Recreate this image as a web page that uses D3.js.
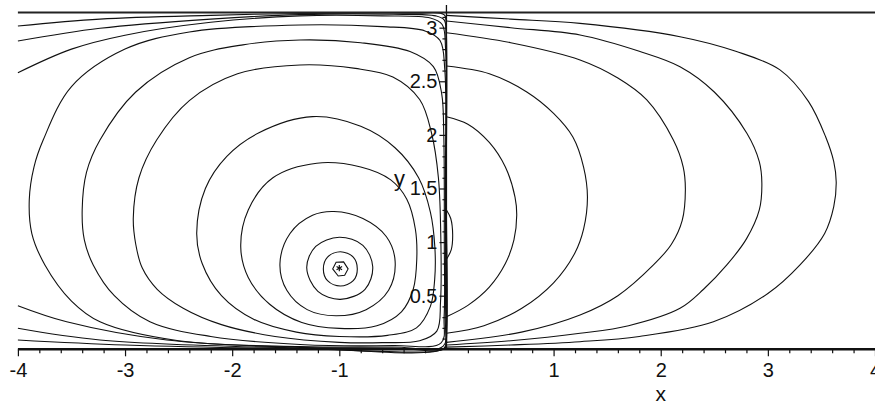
<!DOCTYPE html>
<html>
<head>
<meta charset="utf-8">
<script src="https://cdn.jsdelivr.net/npm/d3@7"></script>
<style>
  body { margin: 0; background: #fff; }
  svg text { font-family: "Liberation Sans", Arial, sans-serif; fill: #111; }
</style>
</head>
<body>
<script>
// plot window and tick labels
var xDomain = [-4, 4],
    yDomain = [0, Math.PI];
var xTickLabels = [-4, -3, -2, -1, 1, 2, 3, 4];
var yTickLabels = [0.5, 1, 1.5, 2, 2.5, 3];
var criticalPoint = [-1.0, 0.757];

// contour lines, [x, y] in data units
// closed loops round the critical point (left half)
var ring1 = [[-1.062,0.75],[-1.03,0.812],[-0.96,0.815],[-0.918,0.75],[-0.95,0.69],[-1.01,0.684]];
var ring2 = [[-1.149,0.75],[-1.11,0.86],[-0.99,0.91],[-0.87,0.86],[-0.832,0.75],[-0.87,0.64],[-0.99,0.59],[-1.11,0.64]];
var ring3 = [[-1.304,0.76],[-1.22,0.96],[-1.0,1.045],[-0.78,0.97],[-0.688,0.77],[-0.76,0.56],[-0.99,0.466],[-1.2,0.54]];
var ring4 = [[-1.554,0.80],[-1.46,1.08],[-1.25,1.25],[-1.05,1.285],[-0.78,1.22],[-0.56,1.05],[-0.479,0.82],[-0.54,0.55],[-0.75,0.37],[-1.03,0.313],[-1.3,0.37],[-1.49,0.55]];
var ring5 = [[-1.92,0.955],[-1.85,1.3],[-1.62,1.6],[-1.21,1.736],[-0.8,1.7],[-0.52,1.58],[-0.37,1.40],[-0.29,1.12],[-0.277,0.84],[-0.31,0.56],[-0.42,0.35],[-0.65,0.22],[-1.0,0.195],[-1.35,0.25],[-1.65,0.42],[-1.85,0.67]];
var ring6 = [[-2.331,1.085],[-2.25,1.5],[-2.05,1.80],[-1.75,2.02],[-1.25,2.17],[-0.8,2.08],[-0.48,1.88],[-0.26,1.6],[-0.15,1.28],[-0.108,0.95],[-0.11,0.65],[-0.15,0.40],[-0.28,0.2],[-0.55,0.13],[-1.0,0.12],[-1.4,0.16],[-1.8,0.28],[-2.1,0.5],[-2.28,0.8]];
var ring7 = [[-2.923,1.225],[-2.87,1.6],[-2.705,1.952],[-2.4,2.32],[-1.95,2.57],[-1.367,2.652],[-0.85,2.62],[-0.5,2.54],[-0.25,2.33],[-0.14,2.02],[-0.075,1.6],[-0.052,1.0],[-0.055,0.45],[-0.09,0.17],[-0.25,0.08],[-0.6,0.062],[-1.0,0.065],[-1.6,0.12],[-2.1,0.23],[-2.457,0.383],[-2.7,0.56],[-2.84,0.76],[-2.9,0.98]];
var ring8 = [[-3.40,1.30],[-3.36,1.65],[-3.234,1.952],[-2.9,2.4],[-2.4,2.72],[-1.9,2.84],[-1.367,2.885],[-0.8,2.86],[-0.34,2.777],[-0.122,2.636],[-0.045,2.388],[-0.025,2.0],[-0.02,1.0],[-0.022,0.3],[-0.05,0.06],[-0.5,0.035],[-1.367,0.045],[-2.2,0.12],[-2.768,0.257],[-3.1,0.5],[-3.297,0.787],[-3.38,1.02]];
var ring9 = [[-3.894,1.393],[-3.85,1.7],[-3.764,1.952],[-3.5,2.45],[-3.0,2.8],[-2.4,2.96],[-1.367,3.025],[-0.6,3.01],[-0.2,2.97],[-0.06,2.88],[-0.015,2.6],[-0.01,1.5],[-0.012,0.3],[-0.03,0.03],[-0.5,0.022],[-1.367,0.025],[-2.5,0.08],[-3.234,0.257],[-3.5,0.45],[-3.748,0.787],[-3.87,1.08]];

// open lines that leave through the left edge
var edge1 = [[-4,2.58],[-3.5,2.8],[-3.0,2.93],[-2.2,3.05],[-1.367,3.11],[-0.6,3.11],[-0.15,3.09],[-0.04,3.03],[-0.008,2.8],[-0.005,1.5],[-0.006,0.2],[-0.02,0.014],[-0.5,0.012],[-1.367,0.018],[-2.61,0.087],[-3.545,0.257],[-4,0.407]];
var edge2 = [[-4,2.875],[-3.234,2.994],[-2.2,3.08],[-1.367,3.122],[-0.5,3.125],[-0.1,3.11],[-0.02,3.07],[-0.004,2.9],[-0.003,1.5],[-0.004,0.1],[-0.02,0.008],[-1.367,0.012],[-3.234,0.087],[-4,0.196]];
var edge3 = [[-4,3.015],[-3.234,3.08],[-2.2,3.115],[-1.367,3.132],[-0.3,3.135],[-0.02,3.12],[-0.003,3.0],[-0.002,1.5],[-0.003,0.05],[-0.02,0.004],[-1.367,0.006],[-3.0,0.04],[-4,0.087]];

// right half: arcs from the y axis and back
var arc1 = [[0,2.17],[0.2,2.1],[0.4,1.93],[0.55,1.7],[0.64,1.42],[0.656,1.25],[0.63,1.02],[0.55,0.8],[0.4,0.58],[0.2,0.41],[0,0.304]];
var arc2 = [[0,2.642],[0.4,2.57],[0.75,2.4],[1.0,2.2],[1.18,1.98],[1.28,1.7],[1.316,1.42],[1.28,1.12],[1.2,0.9],[1.0,0.62],[0.7,0.38],[0.35,0.22],[0,0.149]];
var arc3 = [[0,2.953],[0.6,2.86],[1.247,2.699],[1.6,2.53],[1.87,2.326],[2.118,1.952],[2.21,1.7],[2.23,1.486],[2.2,1.2],[2.1,0.98],[1.932,0.787],[1.6,0.5],[1.247,0.32],[0.7,0.16],[0,0.065]];
var arc4 = [[0,3.062],[0.6,3.0],[1.247,2.932],[1.8,2.78],[2.18,2.636],[2.5,2.4],[2.804,2.015],[2.92,1.75],[2.944,1.549],[2.92,1.3],[2.8,1.03],[2.617,0.787],[2.4,0.56],[2.18,0.382],[1.7,0.22],[1.247,0.149],[0.6,0.08],[0,0.04]];
var arc5 = [[0,3.115],[0.6,3.08],[1.247,3.04],[2.18,2.916],[2.7,2.78],[3.113,2.606],[3.38,2.31],[3.54,1.98],[3.615,1.75],[3.638,1.56],[3.615,1.33],[3.53,1.08],[3.30,0.787],[3.0,0.52],[2.492,0.257],[1.8,0.12],[1.247,0.071],[0.6,0.04],[0,0.02]];
var bulge = [[0,1.30],[0.04,1.22],[0.058,1.07],[0.045,0.93],[0,0.84]];

var closedLoops = [ring2, ring3, ring4, ring5, ring6, ring7, ring8, ring9];
var openLines = [edge1, edge2, edge3, arc1, arc2, arc3, arc4, arc5, bulge];

var width = 875, height = 405;

var x = d3.scaleLinear().domain(xDomain).range([17.9, 875]);
var y = d3.scaleLinear().domain(yDomain).range([349.3, 12.5]);

var svg = d3.select("body").append("svg")
    .attr("width", width)
    .attr("height", height);

var lineOpen = d3.line()
    .x(function(d) { return x(d[0]); })
    .y(function(d) { return y(d[1]); })
    .curve(d3.curveCatmullRom.alpha(0.5));

var lineClosed = d3.line()
    .x(function(d) { return x(d[0]); })
    .y(function(d) { return y(d[1]); })
    .curve(d3.curveCatmullRomClosed.alpha(0.5));

var lineHex = d3.line()
    .x(function(d) { return x(d[0]); })
    .y(function(d) { return y(d[1]); })
    .curve(d3.curveLinearClosed);

var contours = svg.append("g")
    .attr("fill", "none")
    .attr("stroke", "#111")
    .attr("stroke-width", 1.1);

contours.selectAll("path.loop")
    .data(closedLoops)
    .enter().append("path")
    .attr("class", "loop")
    .attr("d", lineClosed);

contours.selectAll("path.open")
    .data(openLines)
    .enter().append("path")
    .attr("class", "open")
    .attr("d", lineOpen);

contours.append("path")
    .attr("d", lineHex(ring1));

// the y = pi edge of the strip
svg.append("line")
    .attr("x1", x(xDomain[0])).attr("x2", x(xDomain[1]))
    .attr("y1", y(Math.PI)).attr("y2", y(Math.PI))
    .attr("stroke", "#222")
    .attr("stroke-width", 2.2);

// star at the critical point
svg.append("path")
    .attr("transform", "translate(" + x(criticalPoint[0]) + "," + y(criticalPoint[1]) + ")")
    .attr("d", d3.symbol().type(d3.symbolAsterisk).size(28))
    .attr("fill", "none")
    .attr("stroke", "#111")
    .attr("stroke-width", 1.2);

// x axis, maple style: thick line, ticks pointing down
var xMinor = d3.range(-40, 41, 2).map(function(v) { return v / 10; })
    .filter(function(v) { return v % 1 !== 0; });

var gx = svg.append("g")
    .attr("transform", "translate(0," + y(0) + ")");

gx.append("g")
    .call(d3.axisBottom(x).tickValues(xMinor).tickSize(4).tickFormat(""))
    .call(function(g) { g.select(".domain").remove(); });

var gxMajor = gx.append("g")
    .call(d3.axisBottom(x).tickValues(xTickLabels).tickSize(7).tickPadding(7)
        .tickFormat(function(d) { return d < 0 ? "-" + Math.abs(d) : String(d); }))
    .call(function(g) { g.select(".domain").remove(); });

gx.selectAll("line").attr("stroke", "#111").attr("stroke-width", 1.2);
gxMajor.selectAll("text").style("font-size", "20px");

svg.append("line")
    .attr("x1", x(xDomain[0])).attr("x2", x(xDomain[1]))
    .attr("y1", y(0)).attr("y2", y(0))
    .attr("stroke", "#111")
    .attr("stroke-width", 2.6);

// y axis along x = 0, ticks pointing left
var yMinor = d3.range(1, 32).map(function(v) { return v / 10; })
    .filter(function(v) { return Math.round(v * 10) % 5 !== 0; });

var gy = svg.append("g")
    .attr("transform", "translate(" + x(0) + ",0)");

gy.append("g")
    .call(d3.axisLeft(y).tickValues(yMinor).tickSize(4).tickFormat(""))
    .call(function(g) { g.select(".domain").remove(); });

var gyMajor = gy.append("g")
    .call(d3.axisLeft(y).tickValues(yTickLabels).tickSize(7).tickPadding(2)
        .tickFormat(function(d) { return String(d); }))
    .call(function(g) { g.select(".domain").remove(); });

gy.selectAll("line").attr("stroke", "#111").attr("stroke-width", 1.2);
gyMajor.selectAll("text").style("font-size", "20px");

svg.append("line")
    .attr("x1", x(0)).attr("x2", x(0))
    .attr("y1", 5).attr("y2", y(0))
    .attr("stroke", "#111")
    .attr("stroke-width", 1.3);

// axis titles
svg.append("text")
    .attr("x", x(2))
    .attr("y", 401)
    .attr("text-anchor", "middle")
    .style("font-size", "21px")
    .text("x");

svg.append("text")
    .attr("x", x(0) - 47)
    .attr("y", y(1.5) - 2)
    .attr("text-anchor", "middle")
    .style("font-size", "22px")
    .text("y");
</script>
</body>
</html>
